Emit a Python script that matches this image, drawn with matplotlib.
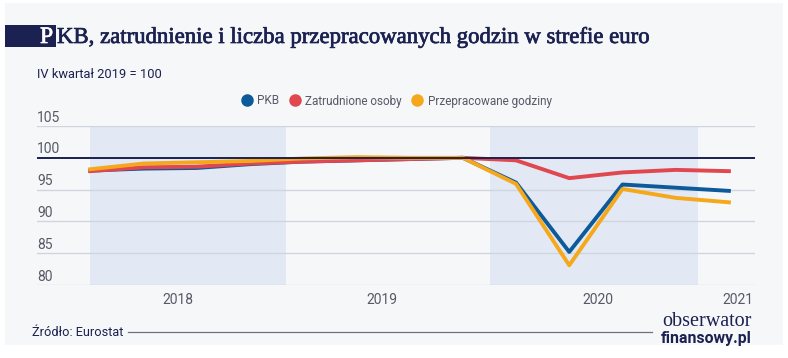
"""
PKB, zatrudnienie i liczba przepracowanych godzin w strefie euro
(IV kwartal 2019 = 100). Odtworzenie wykresu.
"""

import matplotlib.pyplot as plt
import matplotlib.patheffects as pe
from matplotlib.lines import Line2D
from matplotlib.patches import Rectangle

# ---------------------------------------------------------------------------
# DATA  (quarters Q1 2018 .. Q1 2021, index IV kw. 2019 = 100)
# ---------------------------------------------------------------------------
quarters = ["2018Q1", "2018Q2", "2018Q3", "2018Q4",
            "2019Q1", "2019Q2", "2019Q3", "2019Q4",
            "2020Q1", "2020Q2", "2020Q3", "2020Q4", "2021Q1"]
pkb = [98.0, 98.3, 98.4, 99.0, 99.4, 99.6, 99.8, 100.0,
       96.1, 85.2, 95.8, 95.3, 94.8]
zatrudnione = [97.9, 98.5, 98.6, 99.1, 99.4, 99.6, 99.8, 100.0,
               99.6, 96.8, 97.7, 98.1, 97.9]
godziny = [98.2, 99.1, 99.3, 99.5, 99.9, 100.1, 100.0, 100.0,
           95.9, 83.1, 95.1, 93.7, 93.0]

years = ["2018", "2019", "2020", "2021"]
year_label_pos = [1.65, 5.48, 9.54, 12.17]      # in quarter-index units
shaded_spans = [(0.0, 3.68), (7.51, 11.42)]      # 2018 and 2020 bands
y_ticks = [80, 85, 90, 95, 100, 105]

# ---------------------------------------------------------------------------
# STYLE
# ---------------------------------------------------------------------------
NAVY = "#1b2150"
BLUE = "#0d5a9a"
RED = "#e0474f"
YELLOW = "#f5a81c"
GRAY_TXT = "#555a66"
GRID = "#cfd5de"
BAND = "#e2e9f4"
PANEL = "#f6f7f9"

W, H = 788, 358
fig = plt.figure(figsize=(W / 100, H / 100), dpi=100, facecolor="white")

def px(x, y):
    """pixel coords (from top-left) -> figure fraction"""
    return x / W, 1 - y / H

# light panel behind everything
fig.patches.append(Rectangle(px(5, 345), (783 - 5) / W, (345 - 3) / H,
                             transform=fig.transFigure, facecolor=PANEL,
                             edgecolor="none", zorder=-10))

# ---------------------------------------------------------------------------
# TITLE  (slight stroke to mimic the heavier serif of the original)
# ---------------------------------------------------------------------------
fig.patches.append(Rectangle(px(5, 47), 51 / W, 22 / H,
                             transform=fig.transFigure, facecolor=NAVY,
                             edgecolor="none", zorder=1))
tx, ty = px(40, 43)
fig.text(tx, ty, "P", color="white", fontsize=17,
         family="Liberation Serif", va="baseline", ha="left", zorder=2,
         path_effects=[pe.withStroke(linewidth=0.5, foreground="white")])
tx, ty = px(57, 43)
fig.text(tx, ty, "KB, zatrudnienie i liczba przepracowanych godzin w strefie euro",
         color=NAVY, fontsize=16.4, family="Liberation Serif",
         va="baseline", ha="left", zorder=2,
         path_effects=[pe.withStroke(linewidth=0.5, foreground=NAVY)])

tx, ty = px(37, 74)
fig.text(tx, ty, "IV kwartał 2019 = 100", color=NAVY, fontsize=9.3,
         family="Roboto", va="center", ha="left")

# ---------------------------------------------------------------------------
# AXES
# ---------------------------------------------------------------------------
left, bottom = px(37, 285)
right, top = px(755, 126)
ax = fig.add_axes([left, bottom, right - left, top - bottom])
ax.set_zorder(3)
ax.set_facecolor("none")

for a, b in shaded_spans:
    ax.axvspan(a, b, color=BAND, lw=0, zorder=0)

for v in y_ticks:
    if v != 100:
        ax.axhline(v, color=GRID, lw=1.0, zorder=1)
    ax.annotate(str(v), xy=(0, v), xycoords=("axes fraction", "data"),
                xytext=(0, 1), textcoords="offset points",
                ha="left", va="bottom", fontsize=10, color=GRAY_TXT,
                family="Roboto")

x = list(range(len(quarters)))
ax.plot(x, pkb, color=BLUE, lw=2.8, zorder=3)
ax.plot(x, zatrudnione, color=RED, lw=2.8, zorder=3)
ax.plot(x, godziny, color=YELLOW, lw=2.8, zorder=4)
ax.axhline(100, color=NAVY, lw=1.4, zorder=5)

ax.set_xlim(-1.0, 12.49)
ax.set_ylim(80, 105)
ax.set_yticks([])
ax.set_xticks(year_label_pos, years)
ax.tick_params(axis="x", length=0, pad=6, labelsize=10, labelcolor=GRAY_TXT)
for lab in ax.get_xticklabels():
    lab.set_family("Roboto")
for s in ax.spines.values():
    s.set_visible(False)

# ---------------------------------------------------------------------------
# LEGEND
# ---------------------------------------------------------------------------
handles = [Line2D([], [], ls="none", marker="o", ms=8, color=c)
           for c in (BLUE, RED, YELLOW)]
leg = fig.legend(handles, ["PKB", "Zatrudnione osoby", "Przepracowane godziny"],
                 loc="center", bbox_to_anchor=px(397, 101), ncol=3,
                 frameon=False, handlelength=0.8, handletextpad=0.5,
                 columnspacing=0.9, prop={"family": "Roboto", "size": 8.5})
for t in leg.get_texts():
    t.set_color(GRAY_TXT)

# ---------------------------------------------------------------------------
# FOOTER
# ---------------------------------------------------------------------------
tx, ty = px(32, 332)
fig.text(tx, ty, "Źródło: Eurostat", color=NAVY, fontsize=9.2,
         family="Roboto", va="center", ha="left")
fig.lines.append(Line2D([128 / W, 652 / W], [1 - 332 / H, 1 - 332 / H],
                        transform=fig.transFigure, color="#6b7080", lw=0.9))
tx, ty = px(752, 326)
fig.text(tx, ty, "obserwator", color=NAVY, fontsize=14.5,
         family="Liberation Serif", va="baseline", ha="right")
tx, ty = px(752, 343)
fig.text(tx, ty, "finansowy.pl", color=NAVY, fontsize=11.4, weight="bold",
         family="Roboto", va="baseline", ha="right")

fig.savefig("out.png", dpi=100, facecolor=fig.get_facecolor())
